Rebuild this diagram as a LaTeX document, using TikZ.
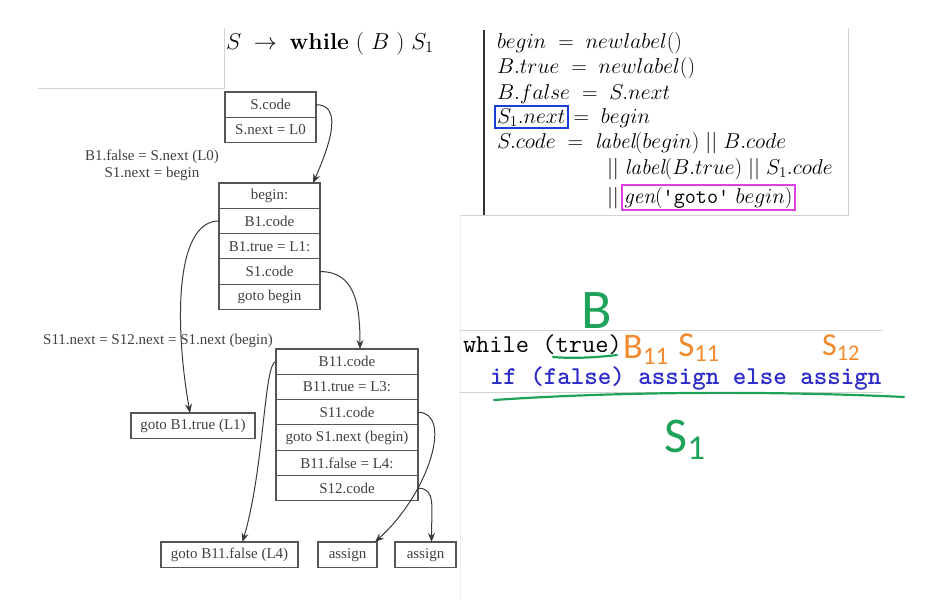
\RequirePackage{fix-cm}
\documentclass[tikz,border=0pt]{standalone}
\usepackage{amsmath}
\usepackage{fontspec}
\usepackage{tikz}
\usetikzlibrary{positioning, arrows.meta}
\newfontfamily\tms{Liberation Serif}
\newfontfamily\handfont{Carlito}
\definecolor{TextGray}{HTML}{404040}
\definecolor{BoxGray}{HTML}{555555}
\definecolor{ArrGray}{HTML}{3A3A3A}
\definecolor{PanelGray}{HTML}{D2D2D2}
\definecolor{HlBlue}{HTML}{1B3FD6}
\definecolor{HlMagenta}{HTML}{E040E0}
\definecolor{CodeBlue}{HTML}{2B2BC8}
\definecolor{HandGreen}{HTML}{1FA35A}
\definecolor{HandOrange}{HTML}{F28A2E}

\begin{document}
\begin{tikzpicture}[
  x=1pt, y=-1pt,
  every node/.style={inner sep=0pt, outer sep=0pt},
  cell/.style={draw=BoxGray, line width=1.1pt, minimum height=25.3pt, minimum width=#1, font=\tms\fontsize{15}{17}\selectfont, text=TextGray},
  cell/.default=91pt,
  lbl/.style={font=\tms\fontsize{15}{17}\selectfont, text=TextGray, align=center},
  arr/.style={-{Stealth[length=9pt, width=7pt]}, line width=1pt, ArrGray},
  panel/.style={PanelGray, line width=1pt},
  code/.style={anchor=base west, font=\fontsize{21.5}{24}\selectfont},
  ttline/.style={anchor=base west, font=\ttfamily\fontsize{25.7}{28}\selectfont},
  hand/.style={font=\handfont\fontsize{#1}{#1}\selectfont},
  handline/.style={HandGreen, line width=2.2pt, line cap=round},
]
  \useasboundingbox (0,0) rectangle (938,606);

  % Panel borders
  \draw[panel] (224,28) -- (224,88) -- (38,88);
  \draw[panel] (460,215) -- (848,215) -- (848,28);
  \draw[PanelGray!35, line width=0.8pt] (460,215) -- (460,600);
  \draw[panel] (460,330) -- (883,330);
  \draw[panel] (460,392) -- (883,392);

  % Production
  \node[anchor=base west, font=\fontsize{23}{27}\selectfont] (prod) at (226,49) {$S \;\rightarrow\; \textbf{while}\ (\ B\ )\ S_1$};

  % S
  \node[cell=91pt, anchor=north west] (scode) at (225,92) {S.code};
  \node[cell=91pt, below=0pt of scode] (snext) {S.next = L0};

  % while body
  \node[cell=101pt, anchor=north west] (beginlbl) at (219,183) {begin:};
  \node[cell=101pt, below=0pt of beginlbl] (bonecode) {B1.code};
  \node[cell=101pt, below=0pt of bonecode] (bonetrue) {B1.true = L1:};
  \node[cell=101pt, below=0pt of bonetrue] (sonecode) {S1.code};
  \node[cell=101pt, below=0pt of sonecode] (gotobegin) {goto begin};

  % if-else body
  \node[cell=142pt, anchor=north west] (bcode) at (276,349) {B11.code};
  \node[cell=142pt, below=0pt of bcode] (btrue) {B11.true = L3:};
  \node[cell=142pt, below=0pt of btrue] (scodeone) {S11.code};
  \node[cell=142pt, below=0pt of scodeone] (gotonext) {goto S1.next (begin)};
  \node[cell=142pt, below=0pt of gotonext] (bfalse) {B11.false = L4:};
  \node[cell=142pt, below=0pt of bfalse] (scodetwo) {S12.code};

  % Leaves
  \node[cell=124pt, anchor=north west] (gotobtrue) at (131,413) {goto B1.true (L1)};
  \node[cell=137pt, anchor=north west] (gotobfalse) at (161,542) {goto B11.false (L4)};
  \node[cell=59pt, anchor=north west] (assignone) at (318,542) {assign};
  \node[cell=61pt, anchor=north west] (assigntwo) at (395,542) {assign};

  % Labels
  \node[lbl] (falselbl) at (152,165) {B1.false = S.next (L0)\\S1.next = begin};
  \node[lbl] (nextlbl) at (158,341) {S11.next = S12.next = S1.next (begin)};

  % Arrows
  \draw[arr] (scode.east) .. controls +(25,0) and +(20,-45) .. ([xshift=-7pt]beginlbl.north east);
  \draw[arr] (bonecode.west) .. controls +(-45,0) and +(-15,-85) .. ([xshift=-3pt]gotobtrue.north);
  \draw[arr] (sonecode.east) .. controls +(35,0) and +(0,-45) .. ([xshift=13pt]bcode.north);
  \draw[arr] (bcode.west) .. controls +(-12,0) and +(22,-75) .. ([xshift=13pt]gotobfalse.north);
  \draw[arr] (scodeone.east) .. controls +(35,0) and +(55,-50) .. ([xshift=-2pt]assignone.north east);
  \draw[arr] (scodetwo.east) .. controls +(18,0) and +(0,-35) .. ([xshift=6pt]assigntwo.north);

  % Semantic rules
  \draw[black!80, line width=1.4pt] (484,30) -- (484,215);
  \node[code] (rbegin) at (497,48) {$begin \;=\; newlabel()$};
  \node[code] (rtrue) at (497,73) {$B.true \;=\; newlabel()$};
  \node[code] (rfalse) at (497,99) {$B.false \;=\; S.next$};
  \node[code, draw=HlBlue, line width=2pt, inner sep=2pt] (snextbox) at (495,123) {$S_1.next$};
  \node[code] (rsnext) at (snextbox.base east) {$\;=\; begin$};
  \node[code] (rcode) at (497,148) {$S.code \;=\; \textit{label}(begin) \;||\; B.code$};
  \node[code] (rcodetwo) at (607,174) {$||\; \textit{label}(B.true) \;||\; S_1.code$};
  \node[code] (rbars) at (607,203) {$||$};
  \node[code, draw=HlMagenta, line width=2pt, inner sep=2pt] (genbox) at ([xshift=3pt]rbars.base east) {$\textit{gen}(\text{\ttfamily 'goto'}\ begin)$};

  % Source
  \node[ttline] (whileln) at (463,352) {while (true)};
  \node[ttline, text=CodeBlue] (ifln) at (490,384) {\bfseries if (false) assign else assign};

  % Hand notes
  \node[hand=56, text=HandGreen] (bnote) at (597,311) {B};
  \draw[handline] (553,357) .. controls (575,359) and (600,357) .. (617,355);
  \node[hand=36, text=HandOrange] (bonenote) at (646,350) {B\textsubscript{11}};
  \node[hand=35, text=HandOrange] (sonenote) at (699,348) {S\textsubscript{11}};
  \node[hand=32, text=HandOrange] (stwonote) at (841,348) {S\textsubscript{12}};
  \draw[handline] (494,400) .. controls (640,390) and (800,392) .. (904,397);
  \node[hand=50, text=HandGreen] (snote) at (685,440) {S\textsubscript{1}};
\end{tikzpicture}
\end{document}
